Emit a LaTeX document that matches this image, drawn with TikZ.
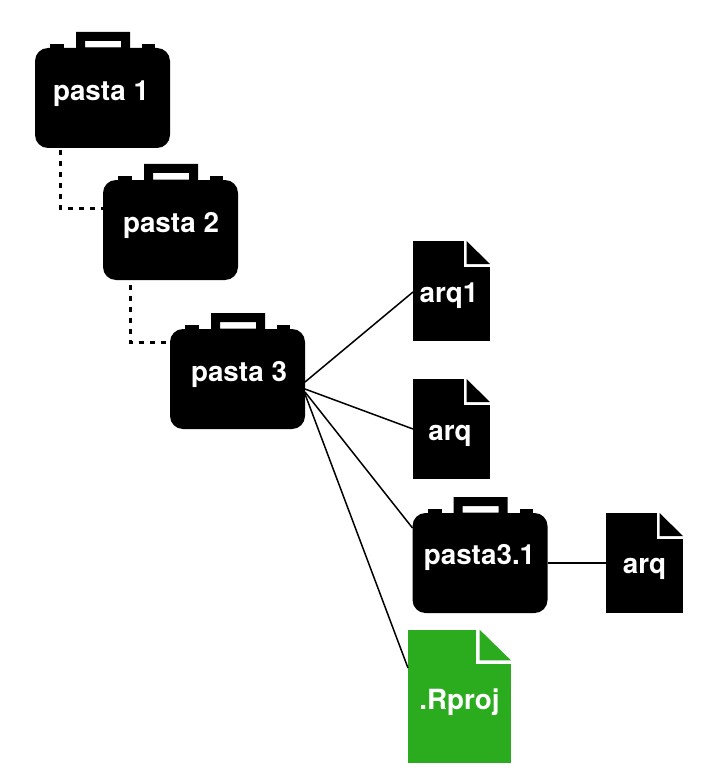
\documentclass[tikz,border=0pt]{standalone}
\usepackage{fontspec}
\setmainfont{TeX Gyre Heros}
\usepackage{xcolor}
\definecolor{rprojgreen}{HTML}{2BAC1F}
\tikzset{
  corpo/.style={rectangle,fill=black,inner sep=0pt,outer sep=0pt,minimum width=135,minimum height=100,rounded corners=13},
  folha/.style={rectangle,fill=black,inner sep=0pt,outer sep=0pt,minimum width=77,minimum height=100},
  folhag/.style={folha,fill=rprojgreen,minimum width=103,minimum height=133},
  rotulo/.style={text=white,font=\fontsize{27.8}{27.8}\selectfont\bfseries,anchor=base,inner sep=0pt},
  linha/.style={line width=1.5pt},
  tracejada/.style={line width=3pt,dash pattern=on 5.3pt off 5.7pt}
}
\newcommand{\pastaicon}[1]{
\begin{scope}[shift={(#1)}]
\fill[even odd rule] (-26.5,-66) rectangle (27.5,-50) (-17.5,-57) rectangle (18.5,-50.5);
\fill (-52.5,-54) rectangle (-38.5,-49);
\fill (39.5,-54) rectangle (52.5,-49);
\end{scope}
}
\newcommand{\dobra}[2]{
\begin{scope}[shift={(#1)},scale=#2]
\fill[white] (12,-50.5) rectangle (39,-24);
\fill[fill=.] (15,-50) -- (38.5,-27) -- (15,-27) -- cycle;
\end{scope}
}
\begin{document}
\begin{tikzpicture}[x=1pt,y=-1pt]
\useasboundingbox (0,0) rectangle (708,778);
% pastas
\node[corpo] (p1) at (102.5,98) {};
\pastaicon{102.5,98}
\node[corpo] (p2) at (170.5,230) {};
\pastaicon{170.5,230}
\node[corpo] (p3) at (237.5,379) {};
\pastaicon{237.5,379}
\node[corpo] (p31) at (480,563) {};
\pastaicon{480,563}
% arquivos
\node[folha] (a1) at (451.5,291) {};
\dobra{451.5,291}{1}
\node[folha] (a2) at (451.5,429) {};
\dobra{451.5,429}{1}
\node[folha] (a3) at (644.5,563) {};
\dobra{644.5,563}{1}
\node[folhag] (r) at (459.5,696.5) {};
\begin{scope}[rprojgreen]
\dobra{459.5,696.5}{1.337}
\end{scope}
% textos
\node[rotulo] (t1) at (101,100.5) {pasta 1};
\node[rotulo] (t2) at (171,232) {pasta 2};
\node[rotulo] (t3) at (239,381) {pasta 3};
\node[rotulo] (t31) at (479.5,564.5) {pasta3.1};
\node[rotulo] (t4) at (449,302) {arq1};
\node[rotulo] (t5) at (450,440) {arq};
\node[rotulo] (t6) at (644.5,573) {arq};
\node[rotulo] (t7) at (459.5,709) {.Rproj};
% ligacoes
\draw[tracejada] ([xshift=-42.5,yshift=-2]p1.south) |- ([yshift=22]p2.west);
\draw[tracejada] ([xshift=-40.5,yshift=-4.5]p2.south) |- ([yshift=37]p3.west);
\draw[linha] ([yshift=-3]p3.east) -- ([yshift=-1]a1.west);
\draw[linha] ([yshift=-10]p3.east) -- (a2.west);
\draw[linha] ([yshift=-13]p3.east) -- ([yshift=35]p31.west);
\draw[linha] ([yshift=-15]p3.east) -- ([yshift=28.5]r.west);
\draw[linha] (p31.east) -- (a3.west);
\end{tikzpicture}
\end{document}
